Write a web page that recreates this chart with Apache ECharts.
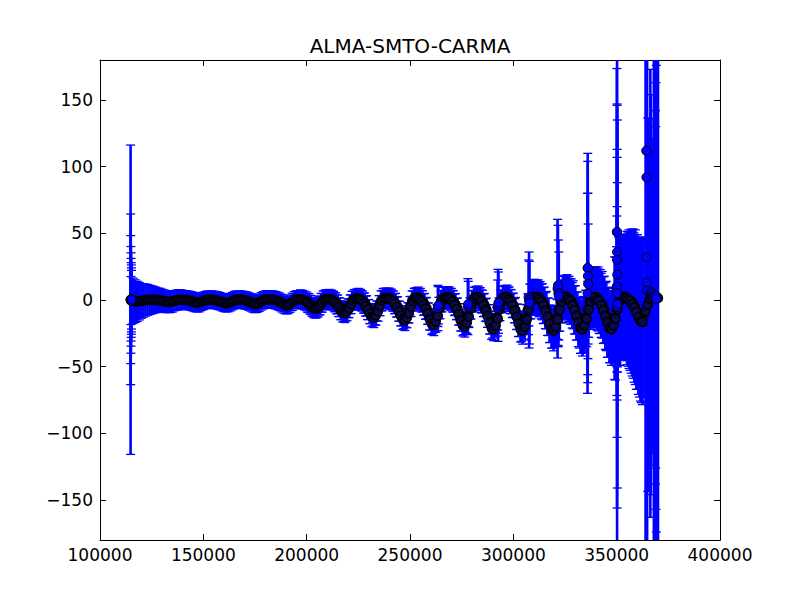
<!DOCTYPE html>
<html>
<head>
<meta charset="utf-8">
<script src="https://cdn.jsdelivr.net/npm/echarts@6/dist/echarts.min.js"></script>
<style>html,body{margin:0;padding:0;background:#fff}#chart{width:800px;height:600px}</style>
</head>
<body>
<div id="chart"></div>
<script>
// ---- data (x in thousands) ----
const X_UNIT = 1000;
const titleText = 'ALMA-SMTO-CARMA';
const xTicks = [100000, 150000, 200000, 250000, 300000, 350000, 400000];
const yTicks = [-150, -100, -50, 0, 50, 100, 150];

const xMain = [
  115,116,117,118,119,120,121,122,123,124,125,
  126,127,128,129,130,131,132,133,134,135,136,137,138,139,
  140,141,142,143,144,145,146,147,148,149,150,151,152,153,
  154,155,156,157,158,159,160,161,162,163,164,165,166,167,
  168,169,170,171,172,173,174,175,176,177,178,179,180,181,182,
  183,184,185,186,187,188,189,190,191,192,193,194,195,196,
  197,198,199,200,201,202,203,204,205,206,207,208,209,210,
  211,212,213,214,215,216,217,218,219,220,221,222,223,224,
  225,226,227,228,229,230,231,232,233,234,235,236,237,238,239,
  240,241,242,243,244,245,246,247,248,249,250,251,252,253,
  254,255,256,257,258,259,260,261,262,263,264,265,266,267,268,
  269,270,271,272,273,274,275,276,277,278,279,280,281,282,
  283,284,285,286,287,288,289,290,291,292,293,294,295,296,
  297,298,299,300,301,302,303,304,305,306,307,308,309,310,311,
  312,313,314,315,316,317,318,319,320,321,322,323,324,325,
  326,327,328,329,330,331,332,333,334,335,336,337,338,339,
  340,341,342,343,344,345,346,347,348,349,350,351,352,353,354,
  355,356,357,358,359,360,361,362,363,364,365,366,367,368,369,370
];
const yMain = [
  -0.4,-0.6,-0.85,-1.0,-0.9,-0.7,-0.35,-0.05,0.1,0.1,0.1,
  0.15,0.06,-0.09,-0.27,-0.54,-0.9,-1.28,-1.5,-1.38,-1.02,-0.53,-0.08,0.14,0.18,
  0.2,0.08,-0.12,-0.36,-0.72,-1.2,-1.7,-2.0,-1.84,-1.36,-0.7,-0.1,0.18,0.24,
  0.25,0.1,-0.15,-0.45,-0.9,-1.5,-2.1,-2.5,-2.3,-1.7,-0.9,-0.1,0.2,0.3,
  0.3,0.1,-0.2,-0.5,-1.1,-1.8,-2.6,-3.0,-2.8,-2.0,-1.0,-0.2,0.3,0.4,0.3,
  0.4,0.2,-0.2,-0.7,-1.4,-2.4,-3.4,-4.0,-3.7,-2.7,-1.4,-0.2,0.4,0.5,
  0.6,0.2,-0.4,-1.1,-2.2,-3.6,-5.1,-6.0,-5.5,-4.1,-2.1,-0.3,0.5,0.7,
  0.9,0.4,-0.5,-1.6,-3.2,-5.4,-7.7,-9.0,-8.3,-6.1,-3.2,-0.5,0.8,1.1,
  1.2,0.5,-0.7,-2.2,-4.3,-7.2,-10.2,-12.0,-11.0,-8.2,-4.2,-0.6,1.1,1.4,1.3,
  1.4,0.6,-0.8,-2.5,-5.0,-8.4,-11.9,-14.0,-12.9,-9.5,-4.9,-0.7,1.3,1.7,
  1.7,0.7,-1.0,-3.1,-6.1,-10.2,-14.5,-17.0,-15.6,-11.6,-6.0,-0.9,1.5,2.0,1.9,
  1.8,0.7,-1.1,-3.2,-6.5,-10.8,-15.3,-18.0,-16.6,-12.2,-6.3,-0.9,1.6,2.2,
  2.0,0.8,-1.2,-3.6,-7.2,-12.0,-17.0,-20.0,-18.4,-13.6,-7.0,-1.0,1.8,2.4,
  2.1,0.8,-1.3,-3.8,-7.6,-12.6,-17.9,-21.0,-19.3,-14.3,-7.4,-1.1,1.9,2.5,2.3,
  2.1,0.8,-1.3,-3.8,-7.6,-12.6,-17.9,-21.0,-19.3,-14.3,-7.4,-1.1,1.9,2.5,
  2.0,0.8,-1.2,-3.6,-7.2,-12.0,-17.0,-20.0,-18.4,-13.6,-7.0,-1.0,1.8,2.4,
  2.0,0.8,-1.2,-3.6,-7.2,-12.0,-17.0,-20.0,-18.4,-13.6,-7.0,-1.0,1.8,2.4,2.2,
  1.5,0.6,-0.9,-2.7,-5.4,-9.0,-12.8,-15.0,-13.0,-8.5,-3.5,1.0,2.5,3.0,2.5,1.5
];
const errMain = [
  18,17,16,15,14,13,12.5,12,11.5,11,10.5,
  10,9.5,9,9,8.5,8.5,8,8,8,8,7.5,7.5,7.5,7.5,
  7,7,7,7,7,7,7,7,7,6.5,6.5,6.5,6.5,6.5,
  6.5,6.5,6.5,6.5,6.5,6.5,6.5,6.5,6.5,6.5,6.5,6.5,6.5,6.5,
  6.5,6.5,6.5,6.5,6.5,6.5,6.5,6.5,6.5,6.5,6.5,6.5,6.5,6.5,6.5,
  6.5,6.5,6.5,6.5,6.5,6.5,6.5,6.5,6.5,6.5,6.5,6.5,6.5,6.5,
  7,7,7,7,7,7,7,7,7,7,7,7,7,7,
  7,7,7,7,7,7,7,7,7,7,7,7,7,7,
  7.5,7.5,7.5,7.5,7.5,7.5,7.5,7.5,7.5,7.5,7.5,7.5,7.5,7.5,7.5,
  7.5,7.5,7.5,7.5,7.5,7.5,7.5,7.5,7.5,7.5,7.5,7.5,7.5,7.5,
  8,8,8,8,8,8,8,8,8,8,8,8,8,8,8,
  8,8,8,8,8,8,8,8,8,8,8,8,8,8,
  8.5,8.5,8.5,8.5,8.5,8.5,8.5,8.5,8.5,8.5,8.5,8.5,8.5,8.5,
  9,9,9,9,9.5,9.5,9.5,10,10,11,12,13,13,13,13,
  13,13,13.5,13.5,14,14,14,15,15,15,16,16,16,16,
  17,17,17,18,18,18,19,20,21,21,21,21,22,22,
  23,24,24,25,25,26,26,27,28,46,47,48,47,47,47,
  50,52,54,56,58,58,60,62,60,230,140,110,95,260,300,320
];

// second, interleaved set of readings (wider / deeper dips)
const xAlt = [
  200.5,201.5,202.5,203.5,204.5,205.5,206.5,207.5,208.5,209.5,210.5,
  211.5,212.5,213.5,214.5,215.5,216.5,217.5,218.5,219.5,220.5,221.5,222.5,223.5,224.5,
  225.5,226.5,227.5,228.5,229.5,230.5,231.5,232.5,233.5,234.5,235.5,236.5,237.5,238.5,239.5,
  240.5,241.5,242.5,243.5,244.5,245.5,246.5,247.5,248.5,249.5,250.5,251.5,252.5,253.5,
  254.5,255.5,256.5,257.5,258.5,259.5,260.5,261.5,262.5,263.5,264.5,265.5,266.5,267.5,268.5,
  269.5,270.5,271.5,272.5,273.5,274.5,275.5,276.5,277.5,278.5,279.5,280.5,281.5,282.5,
  283.5,284.5,285.5,286.5,287.5,288.5,289.5,290.5,291.5,292.5,293.5,294.5,295.5,296.5,
  297.5,298.5,299.5,300.5,301.5,302.5,303.5,304.5,305.5,306.5,307.5,308.5,309.5,310.5,311.5,
  312.5,313.5,314.5,315.5,316.5,317.5,318.5,319.5,320.5,321.5,322.5,323.5,324.5,325.5,
  326.5,327.5,328.5,329.5,330.5,331.5,332.5,333.5,334.5,335.5,336.5,337.5,338.5,339.5,
  340.5,341.5,342.5,343.5,344.5,345.5,346.5,347.5,348.5,349.5,350.5,351.5,352.5,353.5,354.5,
  355.5,356.5,357.5,358.5,359.5,360.5,361.5,362.5
];
const yAlt = [
  -2.3,-3.6,-5.1,-6.3,-6.6,-5.7,-4.2,-2.1,-0.3,0.5,0.6,
  0.2,-0.5,-1.8,-3.4,-5.4,-7.7,-9.5,-9.9,-8.6,-6.3,-3.2,-0.5,0.7,0.9,
  0.2,-0.6,-2.4,-4.6,-7.2,-10.2,-12.6,-13.2,-11.4,-8.4,-4.2,-0.6,1.0,1.2,1.0,
  0.3,-0.7,-2.8,-5.3,-8.4,-11.9,-14.7,-15.4,-13.3,-9.8,-4.9,-0.7,1.1,1.4,
  0.3,-0.9,-3.4,-6.5,-10.2,-14.5,-17.9,-18.7,-16.2,-11.9,-6.0,-0.9,1.4,1.7,1.4,
  0.4,-0.9,-3.6,-6.8,-10.8,-15.3,-18.9,-19.8,-17.1,-12.6,-6.3,-0.9,1.4,1.8,
  0.4,-1.0,-4.0,-7.6,-12.0,-17.0,-21.0,-22.0,-19.0,-14.0,-7.0,-1.0,1.6,2.0,
  0.4,-1.1,-4.2,-8.0,-12.6,-17.9,-22.1,-23.1,-20.0,-14.7,-7.4,-1.1,1.7,2.1,1.7,
  0.4,-1.1,-4.2,-8.0,-12.6,-17.9,-22.1,-23.1,-20.0,-14.7,-7.4,-1.1,1.7,2.1,
  0.4,-1.0,-4.0,-7.6,-12.0,-17.0,-21.0,-22.0,-19.0,-14.0,-7.0,-1.0,1.6,2.0,
  0.4,-1.0,-4.0,-7.6,-12.0,-17.0,-21.0,-22.0,-19.0,-14.0,-7.0,-1.0,1.6,2.0,1.6,
  0.3,-0.8,-3.0,-5.7,-9.0,-12.8,-15.8,-16.5
];
const errAlt = [
  7,7,7,7,7,7,7,7,7,7,7,
  7,7,7,7,7,7,7,7,7,7,7,7,7,7,
  7.5,7.5,7.5,7.5,7.5,7.5,7.5,7.5,7.5,7.5,7.5,7.5,7.5,7.5,7.5,
  7.5,7.5,7.5,7.5,7.5,7.5,7.5,7.5,7.5,7.5,7.5,7.5,7.5,7.5,
  8,8,8,8,8,8,8,8,8,8,8,8,8,8,8,
  8,8,8,8,8,8,8,8,8,8,8,8,8,8,
  8.5,8.5,8.5,8.5,8.5,8.5,8.5,8.5,8.5,8.5,8.5,8.5,8.5,8.5,
  9,9,9,9,9.5,9.5,9.5,10,10,11,12,13,13,13,13,
  13,13,13.5,13.5,14,14,14,15,15,15,16,16,16,16,
  17,17,17,18,18,18,19,20,21,21,21,21,22,22,
  23,24,24,25,25,26,26,27,28,46,47,48,47,47,47,
  50,52,54,56,58,58,60,62
];

// isolated points with large uncertainties
const xExtra = [
  114.8,114.85,114.9,114.95,115.0,115.05,115.1,115.15,115.2,115.25,
  263.5,263.7,278.0,278.2,292.4,292.6,292.8,307.4,307.6,307.8,
  321.4,321.6,321.8,322.0,335.9,336.0,336.0,336.1,336.2,
  350.1,350.1,350.2,350.2,350.2,350.2,350.2,350.2,350.3,350.3,
  364.3,364.4,364.5,364.6,364.7,
  366.3,366.5,366.7,366.9,367.1,367.3,367.5,367.7,368.8,368.9,369.0,369.2
];
const yExtra = [
  0.2,0.5,0.3,0.1,0.4,0.2,0.0,0.3,0.1,0.2,
  -6,-4,-5,-3,-6,-4,-2,2,0,-2,
  8.5,11,5,3,5,24,24,18,12,
  51,10,36,30,10,5,-5,51,19,-3,
  112,92,32,13,7,
  5,4,6,3,4,5,3,2,2,2,3,1
];
const errExtra = [
  116,64,48,40,35,31,28,26,24,22,
  17,14,21,17,21,27,23,28,36,31,
  52,45,40,33,75,80,86,62,45,
  122.6,53,111,77,60,108,151,260,69,138,
  300,280,260,240,220,
  168,150,130,118,106,96,88,80,140,128,160,175
];

// ---- build library data ----
const xs = xMain.concat(xAlt, xExtra), ys = yMain.concat(yAlt, yExtra), es = errMain.concat(errAlt, errExtra);
const errData = xs.map((x, i) => [x * X_UNIT, ys[i] - es[i], ys[i] + es[i]]);
const densePoints = xMain.map((x, i) => [x * X_UNIT, yMain[i]])
  .concat(xAlt.map((x, i) => [x * X_UNIT, yAlt[i]]));
const extraPoints = xExtra.map((x, i) => [x * X_UNIT, yExtra[i]]);

const FONT = 'DejaVu Sans';
const BLUE = '#0000ff';
const fmtY = v => (v < 0 ? '\u2212' + Math.abs(v) : String(v));

const chart = echarts.init(document.getElementById('chart'), null, {renderer: 'svg'});
const axisLineStyle = {show: true, onZero: false, lineStyle: {color: '#000', width: 1}};
chart.setOption({
  animation: false,
  backgroundColor: '#fff',
  graphic: [{
    type: 'text', x: 410, y: 46, z: 10,
    style: {text: titleText, fontSize: 20, fontFamily: FONT, fill: '#000', align: 'center', verticalAlign: 'middle'}
  }],
  grid: {left: 100, right: 80, top: 60, bottom: 60, containLabel: false},
  xAxis: [{
    type: 'value', min: xTicks[0], max: xTicks[xTicks.length - 1], interval: 50000, position: 'bottom',
    axisLine: axisLineStyle, splitLine: {show: false},
    axisTick: {inside: true, length: 6, lineStyle: {color: '#000'}},
    axisLabel: {color: '#000', fontSize: 17, fontFamily: FONT, margin: 6, formatter: v => String(v)}
  }, {
    type: 'value', min: xTicks[0], max: xTicks[xTicks.length - 1], interval: 50000, position: 'top',
    axisLine: axisLineStyle, splitLine: {show: false},
    axisTick: {inside: true, length: 6, lineStyle: {color: '#000'}},
    axisLabel: {show: false}
  }],
  yAxis: [{
    type: 'value', min: -180, max: 180, position: 'left',
    axisLine: axisLineStyle, splitLine: {show: false},
    axisTick: {inside: true, length: 6, lineStyle: {color: '#000'}, customValues: yTicks},
    axisLabel: {color: '#000', fontSize: 17, fontFamily: FONT, margin: 7, customValues: yTicks, formatter: fmtY}
  }, {
    type: 'value', min: -180, max: 180, position: 'right',
    axisLine: axisLineStyle, splitLine: {show: false},
    axisTick: {inside: true, length: 6, lineStyle: {color: '#000'}, customValues: yTicks},
    axisLabel: {show: false}
  }],
  series: [{
    type: 'custom',
    clip: true,
    xAxisIndex: 0, yAxisIndex: 0,
    encode: {x: 0, y: [1, 2]},
    data: errData,
    renderItem: function (params, api) {
      const x = api.value(0), lo = api.value(1), hi = api.value(2);
      const t = api.coord([x, hi]), b = api.coord([x, lo]);
      const cw = 4.5;
      const ls = {stroke: BLUE, lineWidth: 2.6};
      const cs = {stroke: BLUE, lineWidth: 1.3};
      return {type: 'group', children: [
        {type: 'line', shape: {x1: t[0], y1: t[1], x2: b[0], y2: b[1]}, style: ls},
        {type: 'line', shape: {x1: t[0] - cw, y1: t[1], x2: t[0] + cw, y2: t[1]}, style: cs},
        {type: 'line', shape: {x1: b[0] - cw, y1: b[1], x2: b[0] + cw, y2: b[1]}, style: cs}
      ]};
    }
  }, {
    type: 'scatter',
    xAxisIndex: 0, yAxisIndex: 0,
    data: densePoints,
    symbol: 'circle', symbolSize: 9,
    itemStyle: {color: '#0b0b50', borderColor: '#000', borderWidth: 1.5, opacity: 1},
    emphasis: {disabled: true},
    z: 5
  }, {
    type: 'scatter',
    xAxisIndex: 0, yAxisIndex: 0,
    data: extraPoints,
    symbol: 'circle', symbolSize: 9,
    itemStyle: {color: BLUE, borderColor: '#000', borderWidth: 1, opacity: 1},
    emphasis: {disabled: true},
    z: 6
  }]
});
</script>
</body>
</html>
